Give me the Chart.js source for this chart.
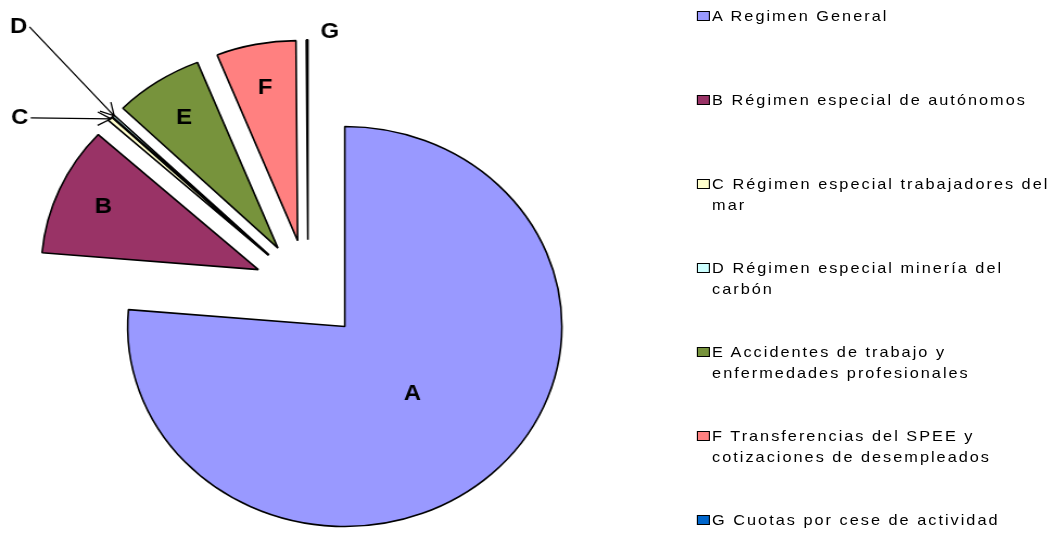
<!DOCTYPE html>
<html>
<head>
<meta charset="utf-8">
<title>Presupuesto</title>
<script src="https://cdn.jsdelivr.net/npm/chart.js@4.4.1/dist/chart.umd.min.js"></script>
<style>
html, body { margin: 0; padding: 0; background: #fff; overflow: hidden; }
/* the original picture is stretched a little in width */
#stage { position: absolute; left: 0; top: 0; width: 971px; height: 553px; transform: scaleX(1.0855); transform-origin: 0 0; }
#pie { position: absolute; left: 0; top: 0; }
#legend { position: absolute; left: 642px; top: 5px; font-family: "Liberation Sans", Arial, sans-serif; font-size: 15px; letter-spacing: 1.85px; color: #000; }
.item { position: absolute; left: 0; width: 340px; line-height: 21px; }
.box { position: absolute; left: 0; top: 6px; width: 10px; height: 8px; border: 1px solid #000; }
.txt { position: absolute; left: 14px; top: 0; width: 322px; }
</style>
</head>
<body>
<div id="stage">
  <canvas id="pie" width="640" height="553"></canvas>
  <div id="legend"></div>
</div>
<script>
var Codes = ["A", "B", "C", "D", "E", "F", "G"];
var Names = [
	"Regimen General",
	"Régimen especial de autónomos",
	"Régimen especial trabajadores del mar",
	"Régimen especial minería del carbón",
	"Accidentes de trabajo y enfermedades profesionales",
	"Transferencias del SPEE y cotizaciones de desempleados",
	"Cuotas por cese de actividad"
];
var Shares = [76.35, 10.45, 0.35, 0.18, 6.62, 5.93, 0.12];
var Colors = ["#9999FF", "#993366", "#FFFFCC", "#CCFFFF", "#77933C", "#FF8080", "#0066CC"];

var EXPLODE = 50;      // every slice pulled out from the centre
var LABEL_FONT = 'bold 22px "Liberation Sans", Arial, sans-serif';
// labels drawn outside the thin slices, relative to the slice's outer point
var OUTSIDE = {
	C: { dx: -83, dy: -1, arrow: true },
	D: { dx: -87, dy: -89, arrow: true },
	G: { dx: 21, dy: -8, arrow: false }
};

function midAngle(arc) {
	return (arc.startAngle + arc.endAngle) / 2;
}

// draw the slices pulled out by the same distance (Excel style explosion)
var explodePlugin = {
	id: "explode",
	beforeDatasetDraw: function (chart, args) {
		var ctx = chart.ctx;
		args.meta.data.forEach(function (arc) {
			var m = midAngle(arc);
			ctx.save();
			ctx.translate(Math.cos(m) * EXPLODE, Math.sin(m) * EXPLODE);
			arc.draw(ctx);
			ctx.restore();
		});
		return false;
	}
};

function arrow(ctx, x0, y0, x1, y1) {
	var a = Math.atan2(y1 - y0, x1 - x0), L = 14, w = 0.5;
	ctx.beginPath();
	ctx.moveTo(x0, y0);
	ctx.lineTo(x1, y1);
	ctx.moveTo(x1 - L * Math.cos(a - w), y1 - L * Math.sin(a - w));
	ctx.lineTo(x1, y1);
	ctx.lineTo(x1 - L * Math.cos(a + w), y1 - L * Math.sin(a + w));
	ctx.stroke();
}

var labelPlugin = {
	id: "sliceLabels",
	afterDatasetsDraw: function (chart) {
		var ctx = chart.ctx;
		ctx.save();
		ctx.font = LABEL_FONT;
		ctx.fillStyle = "#000";
		ctx.strokeStyle = "#000";
		ctx.lineWidth = 1.3;
		ctx.textAlign = "center";
		ctx.textBaseline = "middle";
		chart.getDatasetMeta(0).data.forEach(function (arc, i) {
			var m = midAngle(arc);
			var ux = Math.cos(m), uy = Math.sin(m);
			var vx = arc.x + ux * EXPLODE, vy = arc.y + uy * EXPLODE;
			var out = OUTSIDE[Codes[i]];
			if (!out) {
				var f = (arc.endAngle - arc.startAngle) > Math.PI ? 0.46 : 0.78;
				ctx.fillText(Codes[i], vx + ux * arc.outerRadius * f, vy + uy * arc.outerRadius * f);
				return;
			}
			var ox = vx + ux * arc.outerRadius, oy = vy + uy * arc.outerRadius;
			var lx = ox + out.dx, ly = oy + out.dy;
			ctx.fillText(Codes[i], lx, ly);
			if (out.arrow) arrow(ctx, lx + 10, ly, ox + 1, oy);
		});
		ctx.restore();
	}
};

var PieChart = new Chart(document.getElementById("pie").getContext("2d"), {
	type: "pie",
	data: {
		labels: Codes.map(function (c, i) { return c + " " + Names[i]; }),
		datasets: [{
			data: Shares,
			backgroundColor: Colors,
			borderColor: "#000000",
			borderWidth: 1.6,
			radius: 200
		}]
	},
	options: {
		responsive: false,
		animation: false,
		layout: { padding: { left: 0, right: 72.4, top: 26.4, bottom: 0 } },
		plugins: {
			legend: { display: false },
			tooltip: { enabled: false }
		}
	},
	plugins: [explodePlugin, labelPlugin]
});

// legend on the right, one slot per category
var legendItems = PieChart.options.plugins.legend.labels.generateLabels(PieChart);
var legendBox = document.getElementById("legend");
legendItems.forEach(function (item, i) {
	var row = document.createElement("div");
	row.className = "item";
	row.style.top = (84 * i) + "px";
	var box = document.createElement("span");
	box.className = "box";
	box.style.background = item.fillStyle;
	var txt = document.createElement("div");
	txt.className = "txt";
	txt.textContent = item.text;
	row.appendChild(box);
	row.appendChild(txt);
	legendBox.appendChild(row);
});
</script>
</body>
</html>
